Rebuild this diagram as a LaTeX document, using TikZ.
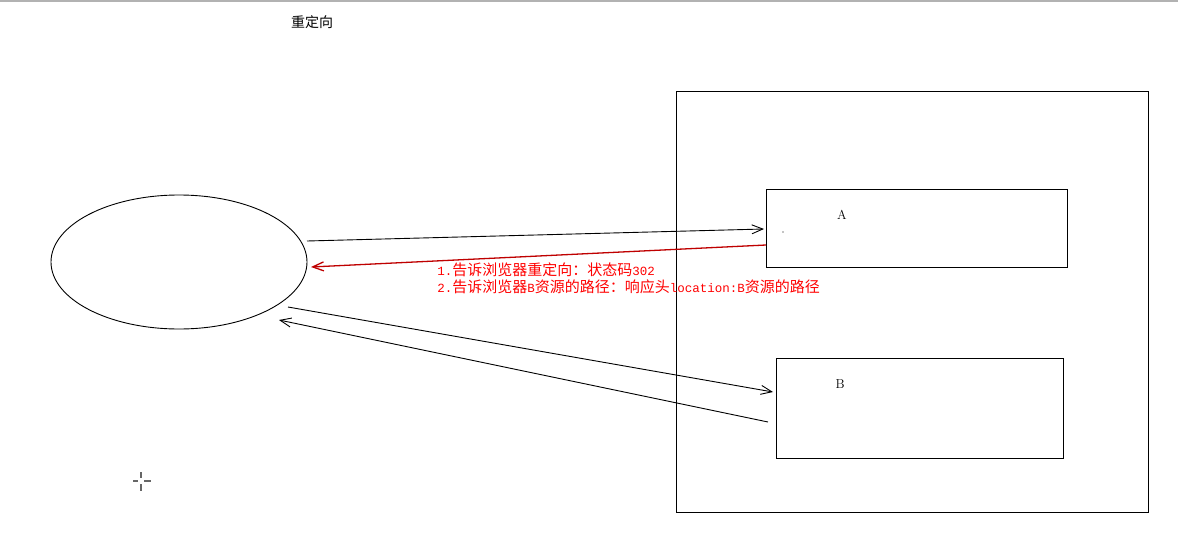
\documentclass[tikz,border=0pt]{standalone}
\usepackage{fontspec}
\newfontfamily\cjk{Noto Sans CJK SC}
\newfontfamily\monolat{Liberation Mono}
\usetikzlibrary{arrows.meta,shapes.geometric}
\newcommand\latpart[1]{{\monolat\fontsize{12.5}{17}\selectfont #1}}
\begin{document}
\begin{tikzpicture}[x=1pt,y=-1pt,line width=0.9pt,
  boxnode/.style={draw,rectangle,anchor=north west,inner sep=0pt},
  conn/.style={-{Straight Barb[length=11pt,width=9pt]},line width=0.9pt},
  redconn/.style={-{Straight Barb[length=11pt,width=9pt]},line width=1.3pt,red!75!black},
  lbl/.style={font=\fontsize{13}{15}\selectfont}]
\useasboundingbox (0,0) rectangle (1178,546);
\fill[white] (0,0) rectangle (1178,546);
\draw[gray!60,line width=2pt] (0,1) -- (1178,1);

\node[font=\cjk\fontsize{14}{16}\selectfont] (title) at (312,22) {重定向};

\node[draw,ellipse,minimum width=256pt,minimum height=134pt,inner sep=0pt] (client) at (179,262) {};

\node[boxnode,minimum width=472pt,minimum height=421pt] (server) at (676,91) {};
\node[boxnode,minimum width=301pt,minimum height=78pt] (boxA) at (766,189) {};
\node[boxnode,minimum width=287pt,minimum height=100pt] (boxB) at (776,358) {};
\node[lbl] (la) at (842,215) {A};
\node[lbl] (lb) at (840,384) {B};
\fill (783,232) circle (0.6pt);

\coordinate (a1s) at (307,241);
\coordinate (a1e) at (764,229);
\coordinate (r1s) at (766,245);
\coordinate (r1e) at (311,267);
\coordinate (b1s) at (288,307);
\coordinate (b1e) at (773,392);
\coordinate (b2s) at (768,422);
\coordinate (b2e) at (279,320);

\draw[conn] (a1s) -- (a1e);
\draw[redconn] (r1s) -- (r1e);
\draw[conn] (b1s) -- (b1e);
\draw[conn] (b2s) -- (b2e);

\node[anchor=north west,inner sep=0pt,text=red,align=left,font=\cjk\fontsize{15}{17}\selectfont] (note) at (437,262)
  {\latpart{1.}告诉浏览器重定向：状态码\latpart{302}\\
   \latpart{2.}告诉浏览器\latpart{B}资源的路径：响应头\latpart{location:B}资源的路径};

\draw[gray!80!black,line width=1.5pt] (141,472) -- (141,478) (141,484) -- (141,491)
  (133,481) -- (138,481) (144,481) -- (151,481);
\end{tikzpicture}
\end{document}
